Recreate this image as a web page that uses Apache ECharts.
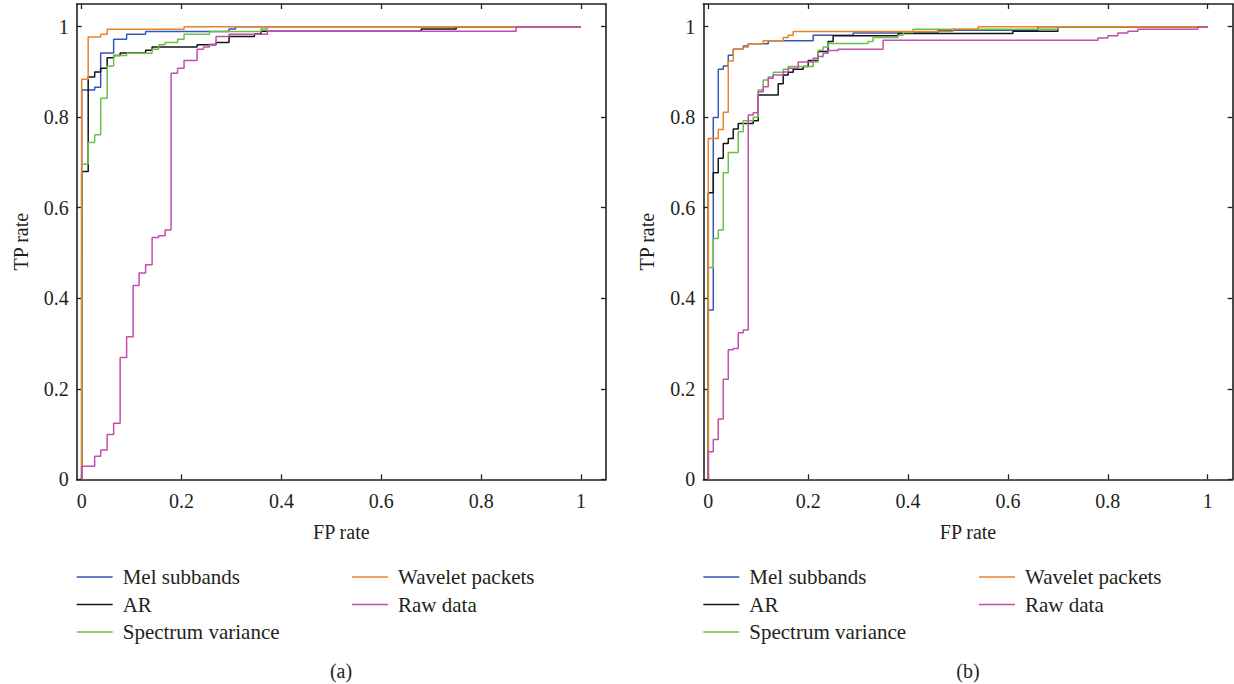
<!DOCTYPE html>
<html><head><meta charset="utf-8">
<script src="https://cdn.jsdelivr.net/npm/echarts@6/dist/echarts.min.js"></script>
<style>html,body{margin:0;padding:0;background:#fff}#c{width:1234px;height:684px}</style>
</head><body><div id="c"></div>
<script>
const seriesNames = ['Mel subbands','AR','Spectrum variance','Wavelet packets','Raw data'];
const seriesColors = ['#3656b8','#141414','#6cbf48','#e8832a','#c24fae'];
const tickValues = [0,0.2,0.4,0.6,0.8,1];
const tickLabels = ['0','0.2','0.4','0.6','0.8','1'];
const panelCaptions = ['(a)','(b)'];

// Panel (a): [FP rate, TP rate] after each step
const melA = [[0,0],[0,0.86],[0.026,0.866],[0.038,0.942],[0.064,0.972],[0.09,0.983],[0.128,0.989],[0.295,0.995],[0.308,1],[1,1]];
const arA = [[0,0],[0,0.68],[0.013,0.889],[0.026,0.9],[0.038,0.908],[0.051,0.931],[0.064,0.936],[0.077,0.942],[0.128,0.948],[0.141,0.955],[0.231,0.96],[0.269,0.965],[0.295,0.978],[0.346,0.984],[0.359,0.99],[0.68,0.995],[0.75,1],[1,1]];
const specA = [[0,0],[0,0.696],[0.013,0.744],[0.026,0.761],[0.038,0.842],[0.051,0.913],[0.064,0.936],[0.09,0.941],[0.141,0.95],[0.154,0.96],[0.167,0.965],[0.192,0.972],[0.205,0.983],[0.256,0.989],[0.359,0.995],[0.372,1],[1,1]];
const waveA = [[0,0],[0,0.884],[0.013,0.977],[0.038,0.983],[0.051,0.994],[0.205,1],[1,1]];
const rawA = [[0,0],[0,0.029],[0.026,0.051],[0.038,0.065],[0.051,0.099],[0.064,0.124],[0.077,0.269],[0.09,0.315],[0.103,0.428],[0.115,0.456],[0.128,0.474],[0.141,0.534],[0.154,0.538],[0.167,0.551],[0.179,0.897],[0.192,0.908],[0.205,0.925],[0.231,0.95],[0.244,0.955],[0.256,0.961],[0.269,0.978],[0.295,0.983],[0.372,0.99],[0.87,1],[1,1]];

// Panel (b)
const melB = [[0,0],[0,0.374],[0.01,0.799],[0.02,0.906],[0.03,0.913],[0.04,0.937],[0.05,0.95],[0.07,0.957],[0.08,0.962],[0.12,0.969],[0.21,0.981],[0.29,0.986],[0.46,0.992],[0.66,1],[1,1]];
const arB = [[0,0],[0,0.633],[0.01,0.677],[0.02,0.709],[0.03,0.742],[0.04,0.753],[0.05,0.774],[0.06,0.786],[0.09,0.792],[0.1,0.849],[0.14,0.874],[0.15,0.893],[0.16,0.899],[0.17,0.906],[0.19,0.912],[0.2,0.925],[0.22,0.945],[0.24,0.967],[0.25,0.98],[0.38,0.985],[0.61,0.99],[0.7,1],[1,1]];
const specB = [[0,0],[0,0.468],[0.01,0.532],[0.02,0.551],[0.03,0.677],[0.04,0.722],[0.06,0.768],[0.07,0.792],[0.09,0.8],[0.1,0.86],[0.11,0.882],[0.12,0.889],[0.13,0.899],[0.15,0.906],[0.16,0.912],[0.21,0.922],[0.22,0.948],[0.23,0.955],[0.24,0.963],[0.32,0.967],[0.33,0.976],[0.38,0.981],[0.39,0.987],[0.41,0.994],[0.7,1],[1,1]];
const waveB = [[0,0],[0,0.753],[0.02,0.773],[0.03,0.811],[0.04,0.924],[0.05,0.95],[0.07,0.955],[0.08,0.962],[0.11,0.969],[0.15,0.976],[0.16,0.981],[0.17,0.989],[0.49,0.994],[0.54,1],[1,1]];
const rawB = [[0,0],[0,0.061],[0.01,0.088],[0.02,0.133],[0.03,0.221],[0.04,0.286],[0.05,0.289],[0.06,0.324],[0.07,0.33],[0.08,0.805],[0.09,0.81],[0.1,0.856],[0.11,0.867],[0.12,0.886],[0.13,0.893],[0.15,0.9],[0.16,0.908],[0.18,0.922],[0.21,0.93],[0.22,0.934],[0.23,0.941],[0.24,0.947],[0.26,0.95],[0.35,0.97],[0.78,0.975],[0.8,0.98],[0.82,0.986],[0.84,0.99],[0.86,0.994],[0.98,1],[1,1]];

const panelData = [[melA,arA,specA,waveA,rawA],[melB,arB,specB,waveB,rawB]];

const FONT = 'Liberation Serif';
const INK = '#231f20';
const FS = 20;
const grids = [
  {left:76.7, top:4, width:529.3, height:475.3},
  {left:703.3, top:4, width:529.4, height:475.3}
];
const fmt = v => { const i = tickValues.findIndex(t => Math.abs(t - v) < 1e-9); return i >= 0 ? tickLabels[i] : ''; };

function xAx(g, pos, labels){
  return {type:'value', gridIndex:g, position:pos, min:-0.01, max:1.05,
    name: labels ? 'FP rate' : '', nameLocation:'middle', nameGap:43,
    nameTextStyle:{fontFamily:FONT, fontSize:FS, color:INK},
    axisLine:{show:true, onZero:false, lineStyle:{color:INK, width:1.6}},
    axisTick:{show:true, inside:true, length:5, customValues:tickValues, lineStyle:{color:INK, width:1.3}},
    axisLabel:{show:labels, customValues:tickValues, formatter:fmt, margin:12, fontFamily:FONT, fontSize:FS, color:INK},
    splitLine:{show:false}};
}
function yAx(g, pos, labels){
  return {type:'value', gridIndex:g, position:pos, min:0, max:1.05,
    name: labels ? 'TP rate' : '', nameLocation:'middle', nameGap:46, nameRotate:90,
    nameTextStyle:{fontFamily:FONT, fontSize:FS, color:INK},
    axisLine:{show:true, onZero:false, lineStyle:{color:INK, width:1.6}},
    axisTick:{show:true, inside:true, length:5, customValues:tickValues, lineStyle:{color:INK, width:1.3}},
    axisLabel:{show:labels, customValues:tickValues, formatter:fmt, margin:8, fontFamily:FONT, fontSize:FS, color:INK},
    splitLine:{show:false}};
}

const xAxes = [], yAxes = [], series = [];
for (let p = 0; p < 2; p++) {
  xAxes.push(xAx(p,'bottom',true), xAx(p,'top',false));
  yAxes.push(yAx(p,'left',true), yAx(p,'right',false));
  panelData[p].forEach((d, i) => {
    series.push({type:'line', name:seriesNames[i], xAxisIndex:2*p, yAxisIndex:2*p,
      data:d, step:'end', symbol:'none', showSymbol:false, color:seriesColors[i],
      lineStyle:{width:1.5, color:seriesColors[i]}, z:2+i, silent:true});
  });
}

function legend(left, names){
  return {left:left, top:566, orient:'vertical', selectedMode:false, data:names, padding:0,
    icon:'rect', itemWidth:36, itemHeight:1.5, itemGap:5.5,
    textStyle:{fontFamily:FONT, fontSize:21, color:INK, lineHeight:22, padding:[0,0,0,5]}};
}

const option = {
  animation:false,
  backgroundColor:'#fff',
  grid:grids,
  xAxis:xAxes, yAxis:yAxes, series:series,
  legend:[
    legend(76.7, [seriesNames[0],seriesNames[1],seriesNames[2]]),
    legend(352, [seriesNames[3],seriesNames[4]]),
    legend(703.3, [seriesNames[0],seriesNames[1],seriesNames[2]]),
    legend(979, [seriesNames[3],seriesNames[4]])
  ],
  title:[
    {text:panelCaptions[0], left:341, top:661, padding:0, textAlign:'center', textStyle:{fontFamily:FONT, fontSize:FS, fontWeight:'normal', color:INK}},
    {text:panelCaptions[1], left:968, top:661, padding:0, textAlign:'center', textStyle:{fontFamily:FONT, fontSize:FS, fontWeight:'normal', color:INK}}
  ]
};
const chart = echarts.init(document.getElementById('c'), null, {renderer:'svg'});
chart.setOption(option);
</script></body></html>
